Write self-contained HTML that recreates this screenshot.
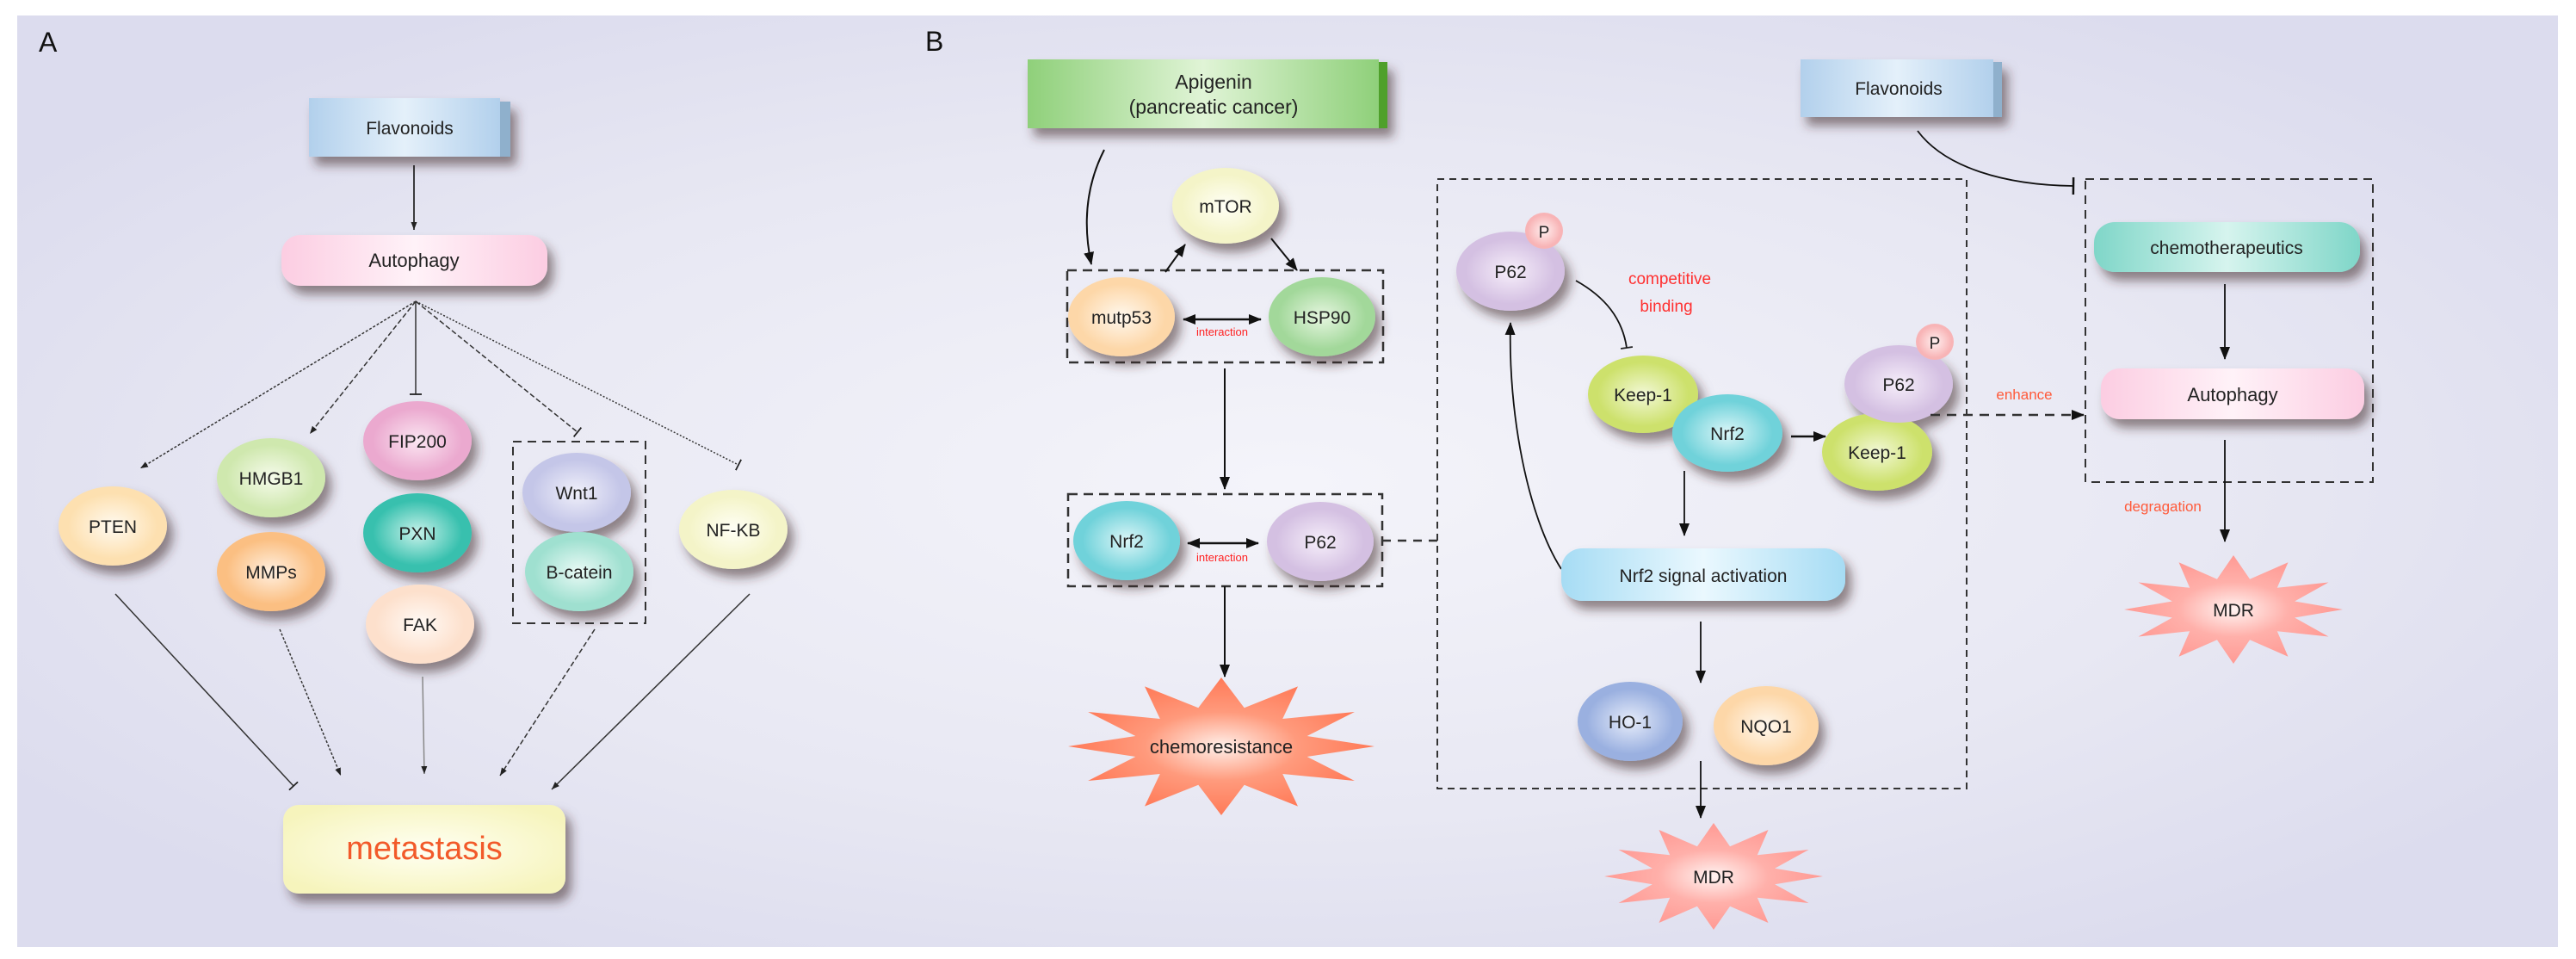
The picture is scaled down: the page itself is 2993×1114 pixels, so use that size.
<!DOCTYPE html>
<html><head><meta charset="utf-8"><style>
html,body{margin:0;padding:0;background:#fff;}
svg{display:block;}
text{font-family:"Liberation Sans",sans-serif;}
</style></head><body>
<svg width="2993" height="1114" viewBox="0 0 2993 1114" xmlns="http://www.w3.org/2000/svg">
<defs>
<radialGradient id="bg" cx="0.5" cy="0.5" r="0.6">
<stop offset="0" stop-color="#f4f4fa"/><stop offset="0.6" stop-color="#e8e8f3"/><stop offset="1" stop-color="#dcdcee"/></radialGradient>
<filter id="sh" x="-30%" y="-30%" width="170%" height="180%"><feDropShadow dx="7" dy="10" stdDeviation="6" flood-color="#402828" flood-opacity="0.55"/></filter>
<marker id="ar" markerUnits="userSpaceOnUse" markerWidth="16" markerHeight="16" refX="14" refY="8" orient="auto"><path d="M0,2 L15,8 L0,14 z" fill="#111"/></marker>
<marker id="arS" markerUnits="userSpaceOnUse" markerWidth="10" markerHeight="10" refX="9" refY="5" orient="auto"><path d="M0,1.5 L9,5 L0,8.5 z" fill="#222"/></marker>
<marker id="arS0" markerUnits="userSpaceOnUse" markerWidth="16" markerHeight="16" refX="1" refY="8" orient="auto"><path d="M15,2 L0,8 L15,14 z" fill="#111"/></marker>
<marker id="tb" markerUnits="userSpaceOnUse" markerWidth="4" markerHeight="20" refX="2" refY="10" orient="auto"><path d="M2,0 L2,20" stroke="#111" stroke-width="2.5"/></marker>
<marker id="tbS" markerUnits="userSpaceOnUse" markerWidth="4" markerHeight="14" refX="2" refY="7" orient="auto"><path d="M2,0 L2,14" stroke="#222" stroke-width="1.8"/></marker>
<radialGradient id="gOrange" cx="0.5" cy="0.5" r="0.55"><stop offset="0" stop-color="#fff8ee"/><stop offset="0.75" stop-color="#fdd7a8"/></radialGradient>
<radialGradient id="gPTEN" cx="0.5" cy="0.5" r="0.55"><stop offset="0" stop-color="#fffaf0"/><stop offset="0.75" stop-color="#fde0b0"/></radialGradient>
<radialGradient id="gGreenL" cx="0.5" cy="0.5" r="0.55"><stop offset="0" stop-color="#f6fbec"/><stop offset="0.75" stop-color="#cfe8ae"/></radialGradient>
<radialGradient id="gMMP" cx="0.5" cy="0.5" r="0.55"><stop offset="0" stop-color="#fff0e0"/><stop offset="0.75" stop-color="#fbbf82"/></radialGradient>
<radialGradient id="gPink" cx="0.5" cy="0.5" r="0.55"><stop offset="0" stop-color="#fbe6f2"/><stop offset="0.75" stop-color="#eba9cf"/></radialGradient>
<radialGradient id="gTeal" cx="0.5" cy="0.5" r="0.55"><stop offset="0" stop-color="#c8f2ea"/><stop offset="0.75" stop-color="#37c0ae"/></radialGradient>
<radialGradient id="gFAK" cx="0.5" cy="0.5" r="0.55"><stop offset="0" stop-color="#fffaf6"/><stop offset="0.75" stop-color="#fde0cc"/></radialGradient>
<radialGradient id="gLav" cx="0.5" cy="0.5" r="0.55"><stop offset="0" stop-color="#f0f0fa"/><stop offset="0.75" stop-color="#c4c6e8"/></radialGradient>
<radialGradient id="gMint" cx="0.5" cy="0.5" r="0.55"><stop offset="0" stop-color="#eafaf6"/><stop offset="0.75" stop-color="#9fe0d0"/></radialGradient>
<radialGradient id="gYel" cx="0.5" cy="0.5" r="0.55"><stop offset="0" stop-color="#fffff6"/><stop offset="0.75" stop-color="#f4f4c8"/></radialGradient>
<radialGradient id="gHSP" cx="0.5" cy="0.5" r="0.55"><stop offset="0" stop-color="#e6f6e0"/><stop offset="0.75" stop-color="#a2d89a"/></radialGradient>
<radialGradient id="gCyan" cx="0.5" cy="0.5" r="0.55"><stop offset="0" stop-color="#dcf6f8"/><stop offset="0.75" stop-color="#70d2da"/></radialGradient>
<radialGradient id="gP62" cx="0.5" cy="0.5" r="0.55"><stop offset="0" stop-color="#f6eefa"/><stop offset="0.75" stop-color="#d4c0e2"/></radialGradient>
<radialGradient id="gKeep" cx="0.5" cy="0.5" r="0.55"><stop offset="0" stop-color="#f2f8d6"/><stop offset="0.75" stop-color="#cde16c"/></radialGradient>
<radialGradient id="gP" cx="0.5" cy="0.5" r="0.55"><stop offset="0" stop-color="#fff0f0"/><stop offset="0.8" stop-color="#f8b4b6"/></radialGradient>
<radialGradient id="gHO" cx="0.5" cy="0.5" r="0.55"><stop offset="0" stop-color="#e6ecfa"/><stop offset="0.75" stop-color="#9ab0e0"/></radialGradient>
<radialGradient id="gStarO" cx="0.5" cy="0.5" r="0.5"><stop offset="0" stop-color="#fff0ea"/><stop offset="0.5" stop-color="#ff9a7c"/><stop offset="1" stop-color="#ff7a58"/></radialGradient>
<radialGradient id="gStarP" cx="0.5" cy="0.5" r="0.5"><stop offset="0" stop-color="#fff4f2"/><stop offset="0.5" stop-color="#ffb0aa"/><stop offset="1" stop-color="#ff9a94"/></radialGradient>
<linearGradient id="gBlueBox" x1="0" x2="1"><stop offset="0" stop-color="#b2d0ec"/><stop offset="0.5" stop-color="#e4f0fa"/><stop offset="1" stop-color="#b2d0ec"/></linearGradient>
<linearGradient id="gGreenBox" x1="0" x2="1"><stop offset="0" stop-color="#8fd07a"/><stop offset="0.5" stop-color="#e0f4d6"/><stop offset="1" stop-color="#8fd07a"/></linearGradient>
<linearGradient id="gPinkBox" x1="0" x2="1"><stop offset="0" stop-color="#fccde2"/><stop offset="0.5" stop-color="#fff2f8"/><stop offset="1" stop-color="#fccde2"/></linearGradient>
<linearGradient id="gTealBox" x1="0" x2="1"><stop offset="0" stop-color="#7fd6c8"/><stop offset="0.5" stop-color="#d6f4ee"/><stop offset="1" stop-color="#7fd6c8"/></linearGradient>
<linearGradient id="gSkyBox" x1="0" x2="1"><stop offset="0" stop-color="#a6dcf4"/><stop offset="0.5" stop-color="#eaf8fe"/><stop offset="1" stop-color="#a6dcf4"/></linearGradient>
<radialGradient id="gMeta" cx="0.5" cy="0.5" r="0.6"><stop offset="0" stop-color="#fffff2"/><stop offset="1" stop-color="#f6f4bc"/></radialGradient>
<path id="star" d="M0,-1 L0.15,-0.56 L0.5,-0.87 L0.4,-0.4 L0.87,-0.5 L0.56,-0.15 L1,0 L0.56,0.15 L0.87,0.5 L0.4,0.4 L0.5,0.87 L0.15,0.56 L0,1 L-0.15,0.56 L-0.5,0.87 L-0.4,0.4 L-0.87,0.5 L-0.56,0.15 L-1,0 L-0.56,-0.15 L-0.87,-0.5 L-0.4,-0.4 L-0.5,-0.87 L-0.15,-0.56 Z"/>
</defs>

<rect x="0" y="0" width="2993" height="1114" fill="#fff"/>
<rect x="20" y="18" width="2952" height="1082" fill="url(#bg)"/>

<!-- ===== Panel A ===== -->
<text x="45" y="60" font-size="32" fill="#111">A</text>
<g filter="url(#sh)">
<rect x="359" y="114" width="222" height="68" fill="url(#gBlueBox)"/>
<rect x="581" y="118" width="12" height="64" fill="#8fb0cc"/>
</g>
<text x="476" y="156" font-size="21" text-anchor="middle" fill="#222">Flavonoids</text>
<line x1="481" y1="192" x2="481" y2="267" stroke="#111" stroke-width="1.6" marker-end="url(#arS)"/>
<rect x="327" y="273" width="309" height="59" rx="22" fill="url(#gPinkBox)" filter="url(#sh)"/>
<text x="481" y="310" font-size="22" text-anchor="middle" fill="#222">Autophagy</text>

<g stroke="#333" stroke-width="1.5" fill="none">
<line x1="483" y1="350" x2="163" y2="544" stroke-dasharray="3,2" marker-end="url(#arS)"/>
<line x1="483" y1="350" x2="360" y2="504" stroke-dasharray="6,3" marker-end="url(#arS)"/>
<line x1="483" y1="350" x2="483" y2="458" marker-end="url(#tbS)"/>
<line x1="483" y1="350" x2="671" y2="502" stroke-dasharray="6,3" marker-end="url(#tbS)"/>
<line x1="483" y1="350" x2="858" y2="540" stroke-dasharray="2,2" marker-end="url(#tbS)"/>
</g>

<rect x="596" y="513" width="154" height="211" fill="none" stroke="#333" stroke-width="2" stroke-dasharray="10,7"/>

<g filter="url(#sh)">
<ellipse cx="131" cy="611" rx="63" ry="46" fill="url(#gPTEN)"/>
<ellipse cx="315" cy="555" rx="63" ry="46" fill="url(#gGreenL)"/>
<ellipse cx="315" cy="664" rx="63" ry="46" fill="url(#gMMP)"/>
<ellipse cx="485" cy="512" rx="63" ry="46" fill="url(#gPink)"/>
<ellipse cx="485" cy="619" rx="63" ry="46" fill="url(#gTeal)"/>
<ellipse cx="488" cy="725" rx="63" ry="46" fill="url(#gFAK)"/>
<ellipse cx="670" cy="572" rx="63" ry="46" fill="url(#gLav)"/>
<ellipse cx="673" cy="664" rx="63" ry="46" fill="url(#gMint)"/>
<ellipse cx="852" cy="615" rx="63" ry="46" fill="url(#gYel)"/>
</g>
<g font-size="21" text-anchor="middle" fill="#222">
<text x="131" y="619">PTEN</text>
<text x="315" y="563">HMGB1</text>
<text x="315" y="672">MMPs</text>
<text x="485" y="520">FIP200</text>
<text x="485" y="627">PXN</text>
<text x="488" y="733">FAK</text>
<text x="670" y="580">Wnt1</text>
<text x="673" y="672">B-catein</text>
<text x="852" y="623">NF-KB</text>
</g>

<g stroke="#333" stroke-width="1.5" fill="none">
<line x1="134" y1="690" x2="341" y2="913" marker-end="url(#tbS)"/>
<line x1="325" y1="731" x2="396" y2="901" stroke-dasharray="3,2" marker-end="url(#arS)"/>
<line x1="491" y1="786" x2="493" y2="899" stroke="#888" marker-end="url(#arS)"/>
<line x1="691" y1="731" x2="581" y2="901" stroke-dasharray="6,3" marker-end="url(#arS)"/>
<line x1="871" y1="690" x2="641" y2="917" marker-end="url(#arS)"/>
</g>
<rect x="329" y="935" width="328" height="103" rx="18" fill="url(#gMeta)" filter="url(#sh)"/>
<text x="493" y="998" font-size="38" text-anchor="middle" fill="#f25a2a">metastasis</text>

<!-- ===== Panel B ===== -->
<text x="1075" y="59" font-size="32" fill="#111">B</text>
<g filter="url(#sh)">
<rect x="1194" y="69" width="408" height="80" fill="url(#gGreenBox)"/>
<rect x="1602" y="72" width="10" height="77" fill="#4fa02a"/>
</g>
<text x="1410" y="103" font-size="23" text-anchor="middle" fill="#222">Apigenin</text>
<text x="1410" y="132" font-size="23" text-anchor="middle" fill="#222">(pancreatic cancer)</text>
<path d="M1283,174 C1262,215 1258,260 1268,307" fill="none" stroke="#111" stroke-width="2" marker-end="url(#ar)"/>

<rect x="1240" y="314" width="367" height="107" fill="none" stroke="#333" stroke-width="2.5" stroke-dasharray="11,7"/>
<g filter="url(#sh)">
<ellipse cx="1424" cy="239" rx="62" ry="44" fill="url(#gYel)"/>
<ellipse cx="1303" cy="368" rx="62" ry="46" fill="url(#gOrange)"/>
<ellipse cx="1536" cy="368" rx="62" ry="46" fill="url(#gHSP)"/>
</g>
<g font-size="21" text-anchor="middle" fill="#222">
<text x="1424" y="247">mTOR</text>
<text x="1303" y="376">mutp53</text>
<text x="1536" y="376">HSP90</text>
</g>
<line x1="1354" y1="316" x2="1377" y2="284" stroke="#111" stroke-width="2" marker-end="url(#ar)"/>
<line x1="1477" y1="277" x2="1507" y2="314" stroke="#111" stroke-width="2" marker-end="url(#ar)"/>
<line x1="1375" y1="371" x2="1465" y2="371" stroke="#111" stroke-width="2.5" marker-start="url(#arS0)" marker-end="url(#ar)"/>
<text x="1420" y="390" font-size="13" text-anchor="middle" fill="#ff2020">interaction</text>
<line x1="1423" y1="428" x2="1423" y2="568" stroke="#111" stroke-width="2" marker-end="url(#ar)"/>

<rect x="1241" y="574" width="365" height="107" fill="none" stroke="#333" stroke-width="2.5" stroke-dasharray="11,7"/>
<g filter="url(#sh)">
<ellipse cx="1309" cy="628" rx="62" ry="46" fill="url(#gCyan)"/>
<ellipse cx="1534" cy="629" rx="62" ry="46" fill="url(#gP62)"/>
</g>
<g font-size="21" text-anchor="middle" fill="#222">
<text x="1309" y="636">Nrf2</text>
<text x="1534" y="637">P62</text>
</g>
<line x1="1380" y1="631" x2="1462" y2="631" stroke="#111" stroke-width="2.5" marker-start="url(#arS0)" marker-end="url(#ar)"/>
<text x="1420" y="652" font-size="13" text-anchor="middle" fill="#ff2020">interaction</text>
<line x1="1606" y1="628" x2="1670" y2="628" stroke="#333" stroke-width="2.5" stroke-dasharray="10,8"/>
<line x1="1423" y1="681" x2="1423" y2="786" stroke="#111" stroke-width="2" marker-end="url(#ar)"/>

<use href="#star" transform="translate(1419,867) scale(178,80)" fill="url(#gStarO)" filter="url(#sh)"/>
<text x="1419" y="875" font-size="22" text-anchor="middle" fill="#222">chemoresistance</text>

<!-- middle box -->
<rect x="1670" y="208" width="615" height="708" fill="none" stroke="#333" stroke-width="2" stroke-dasharray="8,6"/>
<g filter="url(#sh)">
<ellipse cx="1755" cy="315" rx="63" ry="46" fill="url(#gP62)"/>
<ellipse cx="1909" cy="458" rx="64" ry="45" fill="url(#gKeep)"/>
<ellipse cx="2007" cy="503" rx="64" ry="45" fill="url(#gCyan)"/>
<ellipse cx="2181" cy="525" rx="64" ry="45" fill="url(#gKeep)"/>
<ellipse cx="2206" cy="446" rx="63" ry="45" fill="url(#gP62)"/>
</g>
<ellipse cx="1794" cy="268" rx="22" ry="21" fill="url(#gP)"/>
<ellipse cx="2248" cy="397" rx="22" ry="21" fill="url(#gP)"/>
<g font-size="21" text-anchor="middle" fill="#222">
<text x="1755" y="323">P62</text>
<text x="1794" y="276" font-size="19">P</text>
<text x="1909" y="466">Keep-1</text>
<text x="2007" y="511">Nrf2</text>
<text x="2181" y="533">Keep-1</text>
<text x="2206" y="454">P62</text>
<text x="2248" y="405" font-size="19">P</text>
</g>
<text x="1940" y="330" font-size="19" text-anchor="middle" fill="#ff3030" font-family="Liberation Serif,serif">competitive</text>
<text x="1936" y="362" font-size="19" text-anchor="middle" fill="#ff3030" font-family="Liberation Serif,serif">binding</text>
<path d="M1831,326 C1865,345 1885,370 1890,404" fill="none" stroke="#111" stroke-width="1.8" marker-end="url(#tbS)"/>
<line x1="2081" y1="507" x2="2121" y2="507" stroke="#111" stroke-width="2.5" marker-end="url(#ar)"/>
<line x1="2243" y1="482" x2="2421" y2="482" stroke="#333" stroke-width="2.5" stroke-dasharray="11,8" marker-end="url(#ar)"/>
<text x="2352" y="464" font-size="17" text-anchor="middle" fill="#ff5a3a">enhance</text>
<line x1="1957" y1="547" x2="1957" y2="622" stroke="#111" stroke-width="1.8" marker-end="url(#ar)"/>
<path d="M1814,661 C1775,600 1752,480 1755,375" fill="none" stroke="#111" stroke-width="1.8" marker-end="url(#ar)"/>
<rect x="1814" y="637" width="330" height="61" rx="24" fill="url(#gSkyBox)" filter="url(#sh)"/>
<text x="1979" y="676" font-size="21" text-anchor="middle" fill="#222">Nrf2 signal activation</text>
<line x1="1976" y1="722" x2="1976" y2="793" stroke="#111" stroke-width="1.8" marker-end="url(#ar)"/>
<g filter="url(#sh)">
<ellipse cx="1894" cy="838" rx="61" ry="46" fill="url(#gHO)"/>
<ellipse cx="2052" cy="843" rx="61" ry="46" fill="url(#gOrange)"/>
</g>
<text x="1894" y="846" font-size="21" text-anchor="middle" fill="#222">HO-1</text>
<text x="2052" y="851" font-size="21" text-anchor="middle" fill="#222">NQO1</text>
<line x1="1976" y1="884" x2="1976" y2="950" stroke="#111" stroke-width="1.8" marker-end="url(#ar)"/>
<use href="#star" transform="translate(1991,1018) scale(127,62)" fill="url(#gStarP)" filter="url(#sh)"/>
<text x="1991" y="1026" font-size="21" text-anchor="middle" fill="#222">MDR</text>

<!-- right -->
<g filter="url(#sh)">
<rect x="2092" y="69" width="224" height="67" fill="url(#gBlueBox)"/>
<rect x="2316" y="72" width="10" height="64" fill="#8fb0cc"/>
</g>
<text x="2206" y="110" font-size="21" text-anchor="middle" fill="#222">Flavonoids</text>
<path d="M2228,152 C2260,195 2330,215 2409,216" fill="none" stroke="#111" stroke-width="1.8" marker-end="url(#tb)"/>
<rect x="2423" y="208" width="334" height="352" fill="none" stroke="#333" stroke-width="2" stroke-dasharray="10,7"/>
<rect x="2433" y="258" width="309" height="58" rx="24" fill="url(#gTealBox)" filter="url(#sh)"/>
<text x="2587" y="295" font-size="21" text-anchor="middle" fill="#222">chemotherapeutics</text>
<line x1="2585" y1="330" x2="2585" y2="417" stroke="#111" stroke-width="1.8" marker-end="url(#ar)"/>
<rect x="2441" y="428" width="306" height="59" rx="22" fill="url(#gPinkBox)" filter="url(#sh)"/>
<text x="2594" y="466" font-size="22" text-anchor="middle" fill="#222">Autophagy</text>
<line x1="2585" y1="511" x2="2585" y2="629" stroke="#111" stroke-width="1.8" marker-end="url(#ar)"/>
<text x="2513" y="594" font-size="17" text-anchor="middle" fill="#ff5a3a">degragation</text>
<use href="#star" transform="translate(2595,708) scale(127,63)" fill="url(#gStarP)" filter="url(#sh)"/>
<text x="2595" y="716" font-size="21" text-anchor="middle" fill="#222">MDR</text>
</svg>
</body></html>
